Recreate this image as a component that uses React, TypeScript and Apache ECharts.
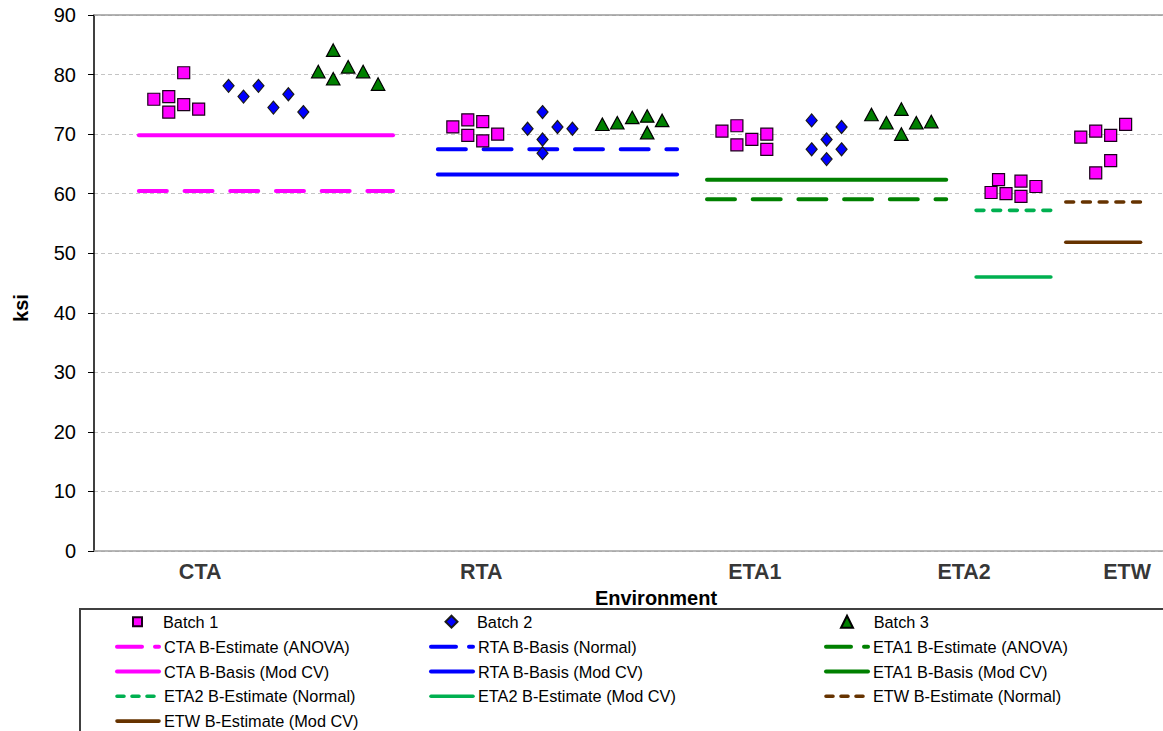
import React, { useEffect, useRef } from "react";
import * as echarts from "echarts";

// ---- Data ----
const CATEGORIES = ["CTA", "RTA", "ETA1", "ETA2", "ETW"];
const CATEGORY_LABEL_X = [7.1, 25.9, 44.2, 58.2, 69.1];

const BATCH1_X = [4, 5, 5, 6, 6, 7, 24, 25, 25, 26, 26, 27, 42, 43, 43, 44, 45, 45, 60, 60.5, 61, 62, 62, 63, 66, 67, 67, 68, 68, 69];
const BATCH1_Y = [75.85, 76.3, 73.7, 80.3, 74.95, 74.2, 71.2, 72.4, 69.8, 72.1, 68.85, 70.0, 70.5, 71.4, 68.2, 69.1, 70.0, 67.45, 60.2, 62.35, 60.0, 62.1, 59.55, 61.2, 69.5, 70.5, 63.5, 69.8, 65.55, 71.65];

const BATCH2_X = [9, 10, 11, 12, 13, 14, 29, 30, 30, 30, 31, 32, 48, 48, 49, 49, 50, 50];
const BATCH2_Y = [78.1, 76.3, 78.1, 74.45, 76.7, 73.7, 70.9, 73.7, 69.1, 66.8, 71.2, 70.9, 72.3, 67.45, 69.1, 65.8, 71.2, 67.45];

const BATCH3_X = [15, 16, 16, 17, 18, 19, 34, 35, 36, 37, 37, 38, 52, 53, 54, 54, 55, 56];
const BATCH3_Y = [80.5, 84.1, 79.3, 81.3, 80.5, 78.4, 71.65, 71.9, 72.8, 73.05, 70.25, 72.3, 73.3, 71.9, 74.2, 70.0, 71.9, 72.1];

const LIMIT_NAMES = [
  "CTA B-Estimate (ANOVA)",
  "CTA B-Basis (Mod CV)",
  "RTA B-Basis (Normal)",
  "RTA B-Basis (Mod CV)",
  "ETA1 B-Estimate (ANOVA)",
  "ETA1 B-Basis (Mod CV)",
  "ETA2 B-Estimate (Normal)",
  "ETA2 B-Estimate (Mod CV)",
  "ETW B-Estimate (Normal)",
  "ETW B-Estimate (Mod CV)",
];
const LIMIT_VALUES = [60.45, 69.8, 67.45, 63.2, 59.05, 62.35, 57.2, 46.0, 58.6, 51.85];
const LIMIT_X_START = [3, 3, 23, 23, 41, 41, 59, 59, 65, 65];
const LIMIT_X_END = [20, 20, 39, 39, 57, 57, 64, 64, 70, 70];

const Y_TICKS = [0, 10, 20, 30, 40, 50, 60, 70, 80, 90];

// ---- Styles ----
const FONT = "'Liberation Sans', Arial, sans-serif";
const LONG_DASH = [28, 17.7];
const LONG_DASH_LEGEND = [25, 13];
const SHORT_DASH = [7.8, 8.9];
const SHORT_DASH_LEGEND = [7, 8];
const LIMIT_STYLES = [
  { color: "#ff00ff", width: 4, type: LONG_DASH },
  { color: "#ff00ff", width: 4, type: "solid" },
  { color: "#0000ff", width: 4, type: LONG_DASH },
  { color: "#0000ff", width: 4, type: "solid" },
  { color: "#008000", width: 4, type: LONG_DASH },
  { color: "#008000", width: 4, type: "solid" },
  { color: "#00b050", width: 3.6, type: SHORT_DASH },
  { color: "#00b050", width: 3.6, type: "solid" },
  { color: "#663300", width: 3.6, type: SHORT_DASH },
  { color: "#663300", width: 3.6, type: "solid" },
];

const zip = (xs: number[], ys: number[]) => xs.map((x, i) => [x, ys[i]]);

export default function App() {
  const ref = useRef<HTMLDivElement>(null);

  useEffect(() => {
    document.body.style.margin = "0";
    document.body.style.overflow = "hidden";
    const chart = echarts.init(ref.current!, undefined, { renderer: "svg" });

    const limitSeries = LIMIT_NAMES.map((name, i) => ({
      type: "line",
      name,
      data: [
        [LIMIT_X_START[i], LIMIT_VALUES[i]],
        [LIMIT_X_END[i], LIMIT_VALUES[i]],
      ],
      symbol: "none",
      silent: true,
      z: 2,
      lineStyle: { ...LIMIT_STYLES[i], cap: "round" },
      itemStyle: { color: LIMIT_STYLES[i].color },
    }));

    const scatterCommon = {
      type: "scatter",
      silent: true,
      z: 5,
      clip: false,
    };

    const textStyle = { fontSize: 16.3, color: "#000", fontFamily: FONT, lineHeight: 16 };
    const legendBase = {
      padding: 0,
      selectedMode: false,
      itemWidth: 42,
      textStyle,
    };
    // batch legend: square icon centered at cx, text starting at tx
    const batchLegend = (name: string, cx: number, tx: number, s: number) => ({
      padding: 0,
      selectedMode: false,
      left: cx - s / 2,
      top: 621.7 - 8,
      itemWidth: s,
      itemHeight: s,
      symbolKeepAspect: true,
      textStyle: { ...textStyle, padding: [0, 0, 0, tx - (cx - s / 2 + s + 5)] },
      data: [name],
    });
    const legendItem = (idx: number) => {
      const t = LIMIT_STYLES[idx].type;
      const legendDash = t === LONG_DASH ? LONG_DASH_LEGEND : t === SHORT_DASH ? SHORT_DASH_LEGEND : "solid";
      return { name: LIMIT_NAMES[idx], lineStyle: { type: legendDash } };
    };
    const lineLegend = (left: number, idxs: number[]) => ({
      ...legendBase,
      left,
      top: 646.7 - 8,
      orient: "vertical",
      itemGap: 8.8,
      itemHeight: 14,
      itemStyle: { opacity: 0 },
      lineStyle: { width: "inherit", cap: "round" },
      data: idxs.map(legendItem),
    });

    const option: any = {
      animation: false,
      textStyle: { fontFamily: FONT },
      grid: {
        left: 94,
        right: 0,
        top: 15,
        bottom: 180,
      },
      xAxis: [
        {
          type: "value",
          min: 0,
          max: 71.5,
          axisLine: { show: true, onZero: false, lineStyle: { color: "#a0a0a0", width: 1.5 } },
          axisTick: { show: false },
          axisLabel: { show: false },
          splitLine: { show: false },
        },
        {
          type: "value",
          position: "top",
          min: 0,
          max: 71.5,
          axisLine: { show: true, onZero: false, lineStyle: { color: "#9a9a9a", width: 1.5 } },
          axisTick: { show: false },
          axisLabel: { show: false },
          splitLine: { show: false },
        },
      ],
      yAxis: {
        type: "value",
        min: 0,
        max: 90,
        interval: 10,
        axisLine: { show: true, lineStyle: { color: "#000", width: 1.5 } },
        axisTick: { show: true, length: 6, lineStyle: { color: "#000", width: 1 } },
        axisLabel: {
          fontSize: 20,
          color: "#000",
          margin: 18,
          formatter: (v: number) => (Y_TICKS.includes(v) ? String(v) : ""),
        },
        splitLine: { show: true, lineStyle: { color: "#c4c4c4", width: 1, type: [4, 3] } },
      },
      legend: [
        batchLegend("Batch 1", 136.5, 162, 9),
        batchLegend("Batch 2", 450.5, 476, 12),
        batchLegend("Batch 3", 846, 872.7, 12),
        lineLegend(115, [0, 1, 6, 9]),
        lineLegend(429, [2, 3, 7]),
        lineLegend(824, [4, 5, 8]),
      ],
      graphic: [
        {
          type: "rect",
          z: -1,
          silent: true,
          shape: { x: 80, y: 609, width: 1200, height: 200 },
          style: { fill: "none", stroke: "#404040", lineWidth: 2 },
        },
        {
          type: "text",
          x: 20.7,
          y: 308,
          rotation: Math.PI / 2,
          style: {
            text: "ksi",
            fontSize: 20,
            fontWeight: "bold",
            fontFamily: FONT,
            fill: "#000",
            align: "center",
            verticalAlign: "middle",
          },
        },
        {
          type: "text",
          x: 656,
          y: 598,
          style: {
            text: "Environment",
            fontSize: 20,
            fontWeight: "bold",
            fontFamily: FONT,
            fill: "#000",
            align: "center",
            verticalAlign: "middle",
          },
        },
      ],
      series: [
        ...limitSeries,
        {
          ...scatterCommon,
          name: "Batch 1",
          symbol: "rect",
          symbolSize: 12,
          itemStyle: { color: "#ff00ff", borderColor: "#1a001a", borderWidth: 1.2, opacity: 1 },
          data: zip(BATCH1_X, BATCH1_Y),
        },
        {
          ...scatterCommon,
          name: "Batch 2",
          symbol: "diamond",
          symbolSize: [11, 13],
          itemStyle: { color: "#0000ff", borderColor: "#1a1a1a", borderWidth: 1.2, opacity: 1 },
          data: zip(BATCH2_X, BATCH2_Y),
        },
        {
          ...scatterCommon,
          name: "Batch 3",
          symbol: "triangle",
          symbolSize: [13.5, 12.5],
          itemStyle: { color: "#008000", borderColor: "#000", borderWidth: 1.2, opacity: 1 },
          data: zip(BATCH3_X, BATCH3_Y),
        },
        {
          type: "scatter",
          name: "categories",
          silent: true,
          clip: false,
          symbolSize: 1,
          itemStyle: { color: "transparent" },
          label: {
            show: true,
            position: "bottom",
            distance: 10,
            formatter: "{b}",
            fontSize: 21.5,
            lineHeight: 21,
            fontWeight: "bold",
            color: "#000",
            fontFamily: FONT,
          },
          data: CATEGORIES.map((c, i) => ({ name: c, value: [CATEGORY_LABEL_X[i], 0] })),
        },
      ],
    };

    chart.setOption(option);
    return () => chart.dispose();
  }, []);

  return <div ref={ref} style={{ width: 1163, height: 731 }} />;
}
